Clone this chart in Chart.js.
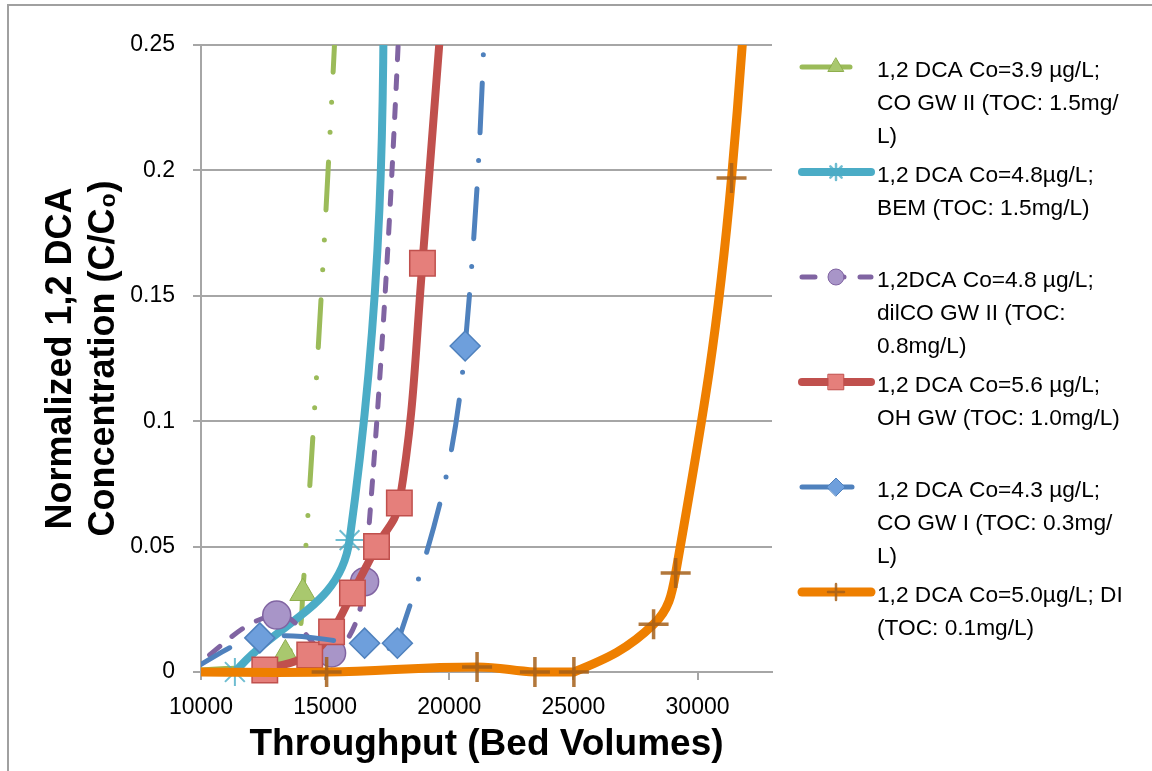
<!DOCTYPE html>
<html>
<head>
<meta charset="utf-8">
<title>1,2 DCA breakthrough curves</title>
<script src="https://cdn.jsdelivr.net/npm/chart.js"></script>
<style>
  html, body { margin: 0; padding: 0; background: #fff; }
  #wrap { width: 1152px; height: 771px; }
</style>
</head>
<body>
<div id="wrap"><canvas id="chart" width="1152" height="771"></canvas></div>
<script>
// ---- values ----
const xTicks = [10000, 15000, 20000, 25000, 30000];
const yTicks = [0, 0.05, 0.1, 0.15, 0.2, 0.25];

// CO GW II (Co=3.9)
const coGw2Bv = [9400, 13400, 14100, 16400];
const coGw2C  = [0, 0.007, 0.0315, 0.45];
// BEM (Co=4.8)
const bemBv = [11365, 15984, 17600];
const bemC  = [0, 0.0526, 0.45];
// dilCO GW II (Co=4.8)
const dilBv = [9400, 13050, 15260, 16590, 18900];
const dilC  = [0, 0.0227, 0.0076, 0.036, 0.45];
// OH GW (Co=5.6)
const ohBv = [12570, 14380, 15260, 16100, 17070, 17990, 18920, 21100];
const ohC  = [0.0008, 0.0068, 0.016, 0.0315, 0.05, 0.0674, 0.163, 0.45];
// CO GW I (Co=4.3)
const coGw1Bv = [9400, 12370, 16590, 17910, 20640, 21850];
const coGw1C  = [0, 0.0136, 0.0115, 0.0115, 0.130, 0.45];
// DI (Co=5.0)
const diBv = [9400, 15060, 21120, 23450, 25020, 28230, 29120, 31370, 32850];
const diC  = [0, 0, 0.002, 0, 0, 0.019, 0.0395, 0.197, 0.45];

// legend text, wrapped like the original
const labelLines = [
  ['1,2 DCA Co=3.9 µg/L;', 'CO GW II (TOC: 1.5mg/', 'L)'],
  ['1,2 DCA Co=4.8µg/L;', 'BEM (TOC: 1.5mg/L)'],
  ['1,2DCA Co=4.8 µg/L;', 'dilCO GW II (TOC:', '0.8mg/L)'],
  ['1,2 DCA Co=5.6 µg/L;', 'OH GW (TOC: 1.0mg/L)'],
  ['1,2 DCA Co=4.3 µg/L;', 'CO GW I (TOC: 0.3mg/', 'L)'],
  ['1,2 DCA Co=5.0µg/L; DI', '(TOC: 0.1mg/L)']
];

const FONT = "'Liberation Sans', Arial, sans-serif";
const gridColor = '#a6a6a6';

function pts(xs, ys) {
  return xs.map((x, i) => ({ x: x, y: ys[i] }));
}

// markers may hang below the x axis, lines are cut at the plot box
const clipBox = { left: 0, top: 0, right: 0, bottom: 22 };

const datasets = [
  {
    label: labelLines[0].join(' '), data: pts(coGw2Bv, coGw2C),
    borderColor: '#9BBB59', borderWidth: 5, borderDash: [48, 30, 0, 30, 0, 30], borderCapStyle: 'round',
    pointStyle: 'triangle', pointRadius: 15, pointBackgroundColor: '#A9C86E', pointBorderColor: '#8EAE4C', pointBorderWidth: 1,
    legendRadius: 9
  },
  {
    label: labelLines[1].join(' '), data: pts(bemBv, bemC),
    borderColor: '#4BACC6', borderWidth: 8, borderCapStyle: 'round',
    pointStyle: 'star', pointRadius: 14, pointBackgroundColor: 'rgba(75,172,198,0.8)', pointBorderColor: 'rgba(75,172,198,0.8)', pointBorderWidth: 2,
    legendRadius: 8
  },
  {
    label: labelLines[2].join(' '), data: pts(dilBv, dilC),
    borderColor: '#8064A2', borderWidth: 5, borderDash: [13, 16], borderCapStyle: 'round',
    pointStyle: 'circle', pointRadius: 14, pointBackgroundColor: '#A895C8', pointBorderColor: '#8064A2', pointBorderWidth: 1.5,
    legendRadius: 8
  },
  {
    label: labelLines[3].join(' '), data: pts(ohBv, ohC),
    borderColor: '#C0504D', borderWidth: 8, borderCapStyle: 'round',
    pointStyle: 'rect', pointRadius: 18, pointBackgroundColor: '#E57F7B', pointBorderColor: '#C0504D', pointBorderWidth: 1.5,
    legendRadius: 11
  },
  {
    label: labelLines[4].join(' '), data: pts(coGw1Bv, coGw1C),
    borderColor: '#4F81BD', borderWidth: 5, borderDash: [50, 28, 0, 28], borderCapStyle: 'round',
    pointStyle: 'rectRot', pointRadius: 15, pointBackgroundColor: '#6E9FDC', pointBorderColor: '#4F81BD', pointBorderWidth: 1.5,
    legendRadius: 9
  },
  {
    label: labelLines[5].join(' '), data: pts(diBv, diC),
    borderColor: '#EE7F00', borderWidth: 9, borderCapStyle: 'round',
    pointStyle: 'cross', pointRadius: 15, pointBackgroundColor: 'rgba(165,95,25,0.85)', pointBorderColor: 'rgba(165,95,25,0.85)', pointBorderWidth: 3.5,
    legendRadius: 8
  }
];

datasets.forEach((ds, i) => {
  ds.showLine = true;
  ds.tension = 0.4;
  ds.fill = false;
  ds.borderJoinStyle = 'round';
  ds.clip = clipBox;
  ds.pointHoverRadius = ds.pointRadius;
  ds.order = datasets.length - 1 - i; // later series on top, as in the original
});

// white page with the thin grey frame
const frame = {
  id: 'frame',
  beforeDraw(chart) {
    const ctx = chart.ctx;
    ctx.save();
    ctx.fillStyle = '#fff';
    ctx.fillRect(0, 0, chart.width, chart.height);
    ctx.strokeStyle = '#a0a0a0';
    ctx.lineWidth = 2;
    ctx.beginPath();
    ctx.moveTo(8, chart.height);
    ctx.lineTo(8, 5);
    ctx.lineTo(chart.width, 5);
    ctx.stroke();
    ctx.restore();
  }
};

// legend on the right with wrapped labels
const sideLegend = {
  id: 'sideLegend',
  afterDraw(chart) {
    const ctx = chart.ctx;
    chart.data.datasets.forEach((ds, i) => {
      const y = 67 + i * 105;
      ctx.save();
      ctx.strokeStyle = ds.borderColor;
      ctx.lineWidth = ds.borderWidth;
      ctx.lineCap = 'round';
      ctx.setLineDash(ds.borderDash || []);
      ctx.beginPath();
      ctx.moveTo(802, y);
      ctx.lineTo(871, y);
      ctx.stroke();
      ctx.setLineDash([]);
      ctx.fillStyle = ds.pointBackgroundColor;
      ctx.strokeStyle = ds.pointBorderColor;
      ctx.lineWidth = ds.pointStyle === 'cross' || ds.pointStyle === 'star' ? 2.5 : 1;
      if (Chart.helpers && Chart.helpers.drawPoint) {
        Chart.helpers.drawPoint(ctx, { pointStyle: ds.pointStyle, radius: ds.legendRadius, rotation: 0, borderWidth: ctx.lineWidth }, 836, y);
      }
      ctx.fillStyle = '#000';
      ctx.font = '22.7px ' + FONT;
      ctx.textAlign = 'left';
      ctx.textBaseline = 'middle';
      labelLines[i].forEach((line, k) => {
        ctx.fillText(line, 877, y + 4 + k * 33);
      });
      ctx.restore();
    });
  }
};

const chart = new Chart(document.getElementById('chart'), {
  type: 'scatter',
  data: { datasets: datasets },
  options: {
    responsive: false,
    animation: false,
    devicePixelRatio: 1,
    layout: { padding: { top: 45, right: 380, bottom: 0, left: 0 } },
    plugins: {
      legend: { display: false },
      tooltip: { enabled: false }
    },
    scales: {
      x: {
        type: 'linear',
        min: 10000,
        max: 33000,
        afterBuildTicks: s => { s.ticks = xTicks.map(v => ({ value: v })); },
        afterFit: s => { s.height = 99; },
        grid: { drawOnChartArea: false, drawTicks: true, tickLength: 8, color: gridColor, lineWidth: 2 },
        border: { color: gridColor, width: 2 },
        ticks: { color: '#000', font: { family: FONT, size: 23 }, padding: 14, maxRotation: 0, autoSkip: false, callback: v => String(v) },
        title: {
          display: true, text: 'Throughput (Bed Volumes)', color: '#000',
          font: { family: FONT, size: 37, weight: 'bold', lineHeight: 1.2 },
          padding: { top: 0, bottom: 4 }
        }
      },
      y: {
        type: 'linear',
        min: 0,
        max: 0.25,
        afterBuildTicks: s => { s.ticks = yTicks.map(v => ({ value: v })); },
        afterFit: s => { s.width = 201; },
        grid: { color: gridColor, lineWidth: 2, tickLength: 8 },
        border: { color: gridColor, width: 2 },
        ticks: { color: '#000', font: { family: FONT, size: 23 }, padding: 18, callback: v => String(+Number(v).toFixed(2)) },
        title: {
          display: true, text: ['Normalized 1,2 DCA', 'Concentration (C/C\u2080)'], color: '#000',
          font: { family: FONT, size: 36, weight: 'bold', lineHeight: 1.2 },
          padding: { top: 39, bottom: 0 }
        }
      }
    }
  },
  plugins: [frame, sideLegend]
});
</script>
</body>
</html>
